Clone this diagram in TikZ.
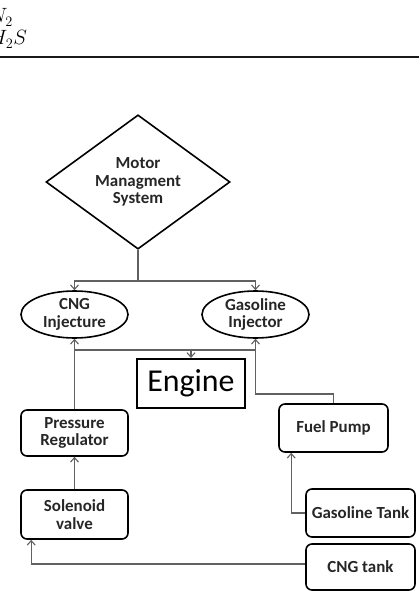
\documentclass[tikz,border=0pt]{standalone}
\usepackage{fontspec}
\setmainfont{Carlito}
\usetikzlibrary{shapes.geometric,arrows.meta}
\begin{document}
\begin{tikzpicture}[x=1bp,y=-1bp,
  lbl/.style={font=\fontsize{17}{17.5}\selectfont\bfseries, text=black!85, align=center},
  rbox/.style={lbl, draw=black, line width=1.6bp, rounded corners=6bp, inner sep=0pt},
  ell/.style={lbl, draw=black, line width=1.6bp, ellipse, inner sep=0pt, minimum width=107bp, minimum height=47bp},
  conn/.style={draw=black!62, line width=1.1bp},
  arr/.style={conn, -{Straight Barb[length=4.5bp,width=8bp]}},
  mathtxt/.style={font=\fontsize{20}{24}\selectfont, anchor=base west, inner sep=0pt}
]
\useasboundingbox (0,0) rectangle (419,591);
\clip (0,0) rectangle (419,591);
% top fragment
\node[mathtxt] (n2) at (-11,23) {$N_2$};
\node[mathtxt] (h2s) at (-11,45) {$H_2S$};
\draw[line width=1.5bp, black!90] (0,57) -- (419,57);
% nodes
\node[diamond, draw=black, line width=1.6bp, inner sep=0pt, minimum width=184bp, minimum height=126bp, lbl] (mms) at (138,182) {Motor\\Managment\\System};
\node[ell] (cngi) at (74.5,314.5) {CNG\\Injecture};
\node[ell] (gasi) at (255.5,314.5) {Gasoline\\Injector};
\node[draw=black, line width=2bp, minimum width=108bp, minimum height=49bp, inner sep=0pt, font=\fontsize{32}{38}\selectfont] (engine) at (191,383.5) {Engine};
\node[rbox, minimum width=107bp, minimum height=46bp] (preg) at (74.5,433) {Pressure\\Regulator};
\node[rbox, minimum width=109bp, minimum height=48bp] (fpump) at (333.5,428) {Fuel Pump};
\node[rbox, minimum width=107bp, minimum height=49bp] (sol) at (74.5,514.5) {Solenoid\\valve};
\node[rbox, minimum width=109bp, minimum height=48bp] (gtank) at (360.5,513) {Gasoline Tank};
\node[rbox, minimum width=109bp, minimum height=46bp] (ctank) at (360.5,567) {CNG tank};
% connectors
\coordinate (j1) at (138,281);
\draw[conn] (mms.south) -- (j1);
\draw[arr] (j1) -| (cngi.north);
\draw[arr] (j1) -| (gasi.north);
\coordinate (j2) at (191,350);
\draw[conn] (cngi.south |- j2) -- (gasi.south |- j2);
\draw[arr] (j2) -- (engine.north);
\draw[arr] (preg.north) -- (cngi.south);
\coordinate (j3) at (333.5,394);
\draw[arr] (fpump.north) -- (j3) -| (gasi.south);
\draw[arr] (sol.north) -- (preg.south);
\draw[arr] (gtank.west) -| ([xshift=13bp]fpump.south west);
\draw[arr] ([yshift=3bp]ctank.west) -| ([xshift=11bp]sol.south west);
\end{tikzpicture}
\end{document}
